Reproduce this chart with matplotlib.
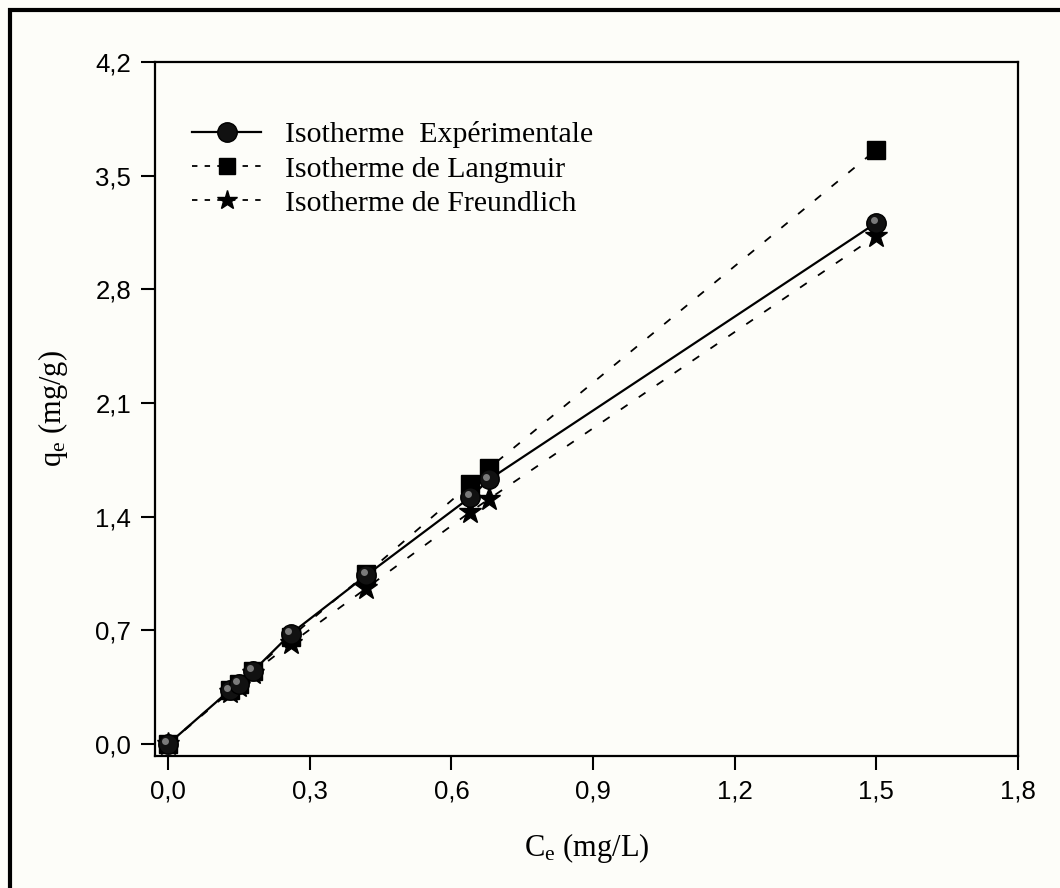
import numpy as np
import matplotlib
matplotlib.use("Agg")
import matplotlib.pyplot as plt
from matplotlib.lines import Line2D
from matplotlib.transforms import ScaledTranslation

plt.rcParams['mathtext.fontset'] = 'custom'
plt.rcParams['mathtext.rm'] = 'Liberation Serif'
plt.rcParams['mathtext.it'] = 'Liberation Serif:italic'

# equilibrium concentration (mg/L) and adsorbed amounts (mg/g)
ce = [0.0, 0.13, 0.15, 0.18, 0.26, 0.42, 0.64, 0.68, 1.50]
q_exp = [0.0, 0.33, 0.37, 0.45, 0.68, 1.04, 1.52, 1.63, 3.21]
q_langmuir = [0.0, 0.33, 0.37, 0.45, 0.66, 1.05, 1.60, 1.70, 3.66]
q_freundlich = [0.0, 0.32, 0.36, 0.44, 0.62, 0.96, 1.43, 1.51, 3.13]

labels = ['Isotherme  Expérimentale', 'Isotherme de Langmuir', 'Isotherme de Freundlich']
xticks = [0.0, 0.3, 0.6, 0.9, 1.2, 1.5, 1.8]
yticks = [0.0, 0.7, 1.4, 2.1, 2.8, 3.5, 4.2]

bg = '#fdfdf9'
fig = plt.figure(figsize=(10.6, 8.88), dpi=100, facecolor=bg)
ax = fig.add_axes([0.1462, 0.1486, 0.9604 - 0.1462, 0.9302 - 0.1486])
ax.set_facecolor(bg)

dash = (4.5, 7.5)
ax.plot(ce, q_langmuir, color='black', lw=1.3, dashes=dash,
        marker='s', ms=13, mec='black', mfc='black', zorder=3)
ax.plot(ce, q_freundlich, color='black', lw=1.3, dashes=dash,
        marker='*', ms=17, mec='black', mfc='black', zorder=3)
ax.plot(ce, q_exp, color='black', lw=1.6, ls='-',
        marker='o', ms=14, mec='black', mfc='#111111', zorder=4)
# small highlight on the spheres
hl = ax.transData + ScaledTranslation(-2.0 / 72, 2.0 / 72, fig.dpi_scale_trans)
ax.plot(ce, q_exp, ls='none', marker='o', ms=5, mfc='#a8a8a8', mec='none',
        alpha=0.7, transform=hl, zorder=5)

ax.set_xlim(-0.028, 1.8)
ax.set_ylim(-0.074, 4.2)
ax.set_xticks(xticks)
ax.set_yticks(yticks)
ax.set_xticklabels([f"{v:.1f}".replace('.', ',') for v in xticks])
ax.set_yticklabels([f"{v:.1f}".replace('.', ',') for v in yticks])
ax.tick_params(direction='out', length=10, width=1.5, labelsize=18.5,
               top=False, right=False, pad=7)
for lab in ax.get_xticklabels() + ax.get_yticklabels():
    lab.set_family('Liberation Sans')
for sp in ax.spines.values():
    sp.set_linewidth(1.6)

ax.set_xlabel(r'C$_\mathrm{e}$ (mg/L)', fontsize=22, family='Liberation Serif', labelpad=20)
ax.set_ylabel(r'q$_\mathrm{e}$ (mg/g)', fontsize=22, family='Liberation Serif', labelpad=18)

handles = [
    Line2D([], [], color='black', lw=1.6, marker='o', ms=14, mfc='#111111', mec='black'),
    Line2D([], [], color='black', lw=1.3, dashes=(3, 4), marker='s', ms=11, mfc='black', mec='black'),
    Line2D([], [], color='black', lw=1.3, dashes=(3, 4), marker='*', ms=15, mfc='black', mec='black'),
]
ax.legend(handles, labels, loc='upper left', bbox_to_anchor=(0.012, 0.953),
          frameon=False, handlelength=2.3, handletextpad=0.8, labelspacing=0.24,
          prop={'family': 'Liberation Serif', 'size': 21.5})

# outer frame along the top and left edges
fig.add_artist(Line2D([10 / 1060, 10 / 1060], [0, 1 - 8 / 888], transform=fig.transFigure,
                      color='black', lw=3, solid_capstyle='butt'))
fig.add_artist(Line2D([8 / 1060, 1], [1 - 10 / 888, 1 - 10 / 888], transform=fig.transFigure,
                      color='black', lw=3, solid_capstyle='butt'))

fig.savefig('out.png', dpi=100, facecolor=bg)
